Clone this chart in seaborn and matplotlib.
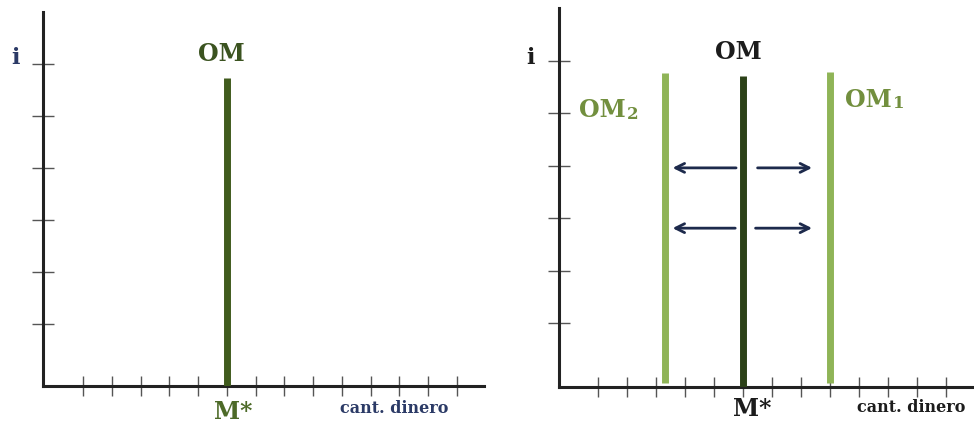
import numpy as np
import pandas as pd
import seaborn as sns
import matplotlib.pyplot as plt

# money supply curves (vertical lines): position on the quantity axis, bottom and top on the i axis
left_curves = ["OM"]
left_x = [6]
left_bottom = [-0.19]
left_top = [5.73]

right_curves = ["OM2", "OM", "OM1"]
right_x = [3.3, 6, 9]
right_bottom = [-0.15, -0.22, -0.15]
right_top = [5.77, 5.71, 5.79]

# shift arrows (right panel)
arrow_y = [3.96, 2.81]
arrow_left_start = [5.86, 5.83]
arrow_left_end = [3.48, 3.48]
arrow_right_start = [6.41, 6.34]
arrow_right_end = [8.48, 8.48]

x_ticks = list(range(1, 15))
y_ticks = list(range(1, 7))

sns.set_style("white")
plt.rcParams['font.family'] = ['DejaVu Serif', 'DejaVu Sans']

fig = plt.figure(figsize=(9.74, 4.28), dpi=100)
W, H = 974, 428
ax1 = fig.add_axes([43 / W, (H - 386) / H, 441 / W, (386 - 12) / H])
ax2 = fig.add_axes([559 / W, (H - 387) / H, 445 / W, (387 - 8) / H])


def curves_df(names, xs, bottoms, tops):
    rows = []
    for n, x, b, t in zip(names, xs, bottoms, tops):
        rows.append({"curve": n, "x": x, "y": b})
        rows.append({"curve": n, "x": x, "y": t})
    return pd.DataFrame(rows)


df_left = curves_df(left_curves, left_x, left_bottom, left_top)
df_right = curves_df(right_curves, right_x, right_bottom, right_top)

sns.lineplot(data=df_left, x="x", y="y", hue="curve", orient="y", estimator=None,
             palette={"OM": "#405b1d"}, linewidth=5, solid_capstyle="butt",
             legend=False, ax=ax1, zorder=3)
sns.lineplot(data=df_right, x="x", y="y", hue="curve", orient="y", estimator=None,
             palette={"OM2": "#8fb457", "OM": "#2c4118", "OM1": "#8fb457"},
             linewidth=5, solid_capstyle="butt", legend=False, ax=ax2, zorder=3)

for ax, xlim, ylim in [(ax1, (-0.39, 14.94), (-0.19, 7.0)), (ax2, (-0.34, 15.0), (-0.22, 7.01))]:
    ax.set_xlim(*xlim)
    ax.set_ylim(*ylim)
    ax.set_xticks(x_ticks)
    ax.set_yticks(y_ticks)
    ax.set_xlabel("")
    ax.set_ylabel("")
    ax.tick_params(bottom=True, left=True, labelbottom=False, labelleft=False,
                   direction="inout", color="#555555", width=1)
    ax.tick_params(axis="x", length=14)
    ax.tick_params(axis="y", length=16)
    sns.despine(ax=ax)
    for s in ["left", "bottom"]:
        ax.spines[s].set_linewidth(2.2)
        ax.spines[s].set_color("#222222")
    ax.set_facecolor("none")

navy = "#2b3a66"
# left panel labels
ax1.text(-1.36, 6.12, "i", color=navy, fontsize=16, fontweight="bold", ha="center", va="center")
ax1.text(5.80, 6.19, "OM", color="#3b5320", fontsize=17, fontweight="bold", ha="center", va="center")
ax1.text(6.21, -0.69, "M*", color="#4d6a28", fontsize=17, fontweight="bold", ha="center", va="center")
ax1.text(11.81, -0.62, "cant. dinero", color=navy, fontsize=11.5, fontweight="bold", ha="center", va="center")

# right panel labels
dark = "#1c1c1c"
green = "#728f3e"
ax2.text(-1.34, 6.06, "i", color=dark, fontsize=16, fontweight="bold", ha="center", va="center")
ax2.text(5.86, 6.17, "OM", color=dark, fontsize=17, fontweight="bold", ha="center", va="center")
ax2.text(6.31, -0.64, "M*", color=dark, fontsize=17, fontweight="bold", ha="center", va="center")
ax2.text(11.79, -0.62, "cant. dinero", color=dark, fontsize=11.5, fontweight="bold", ha="center", va="center")

om2 = ax2.text(1.95, 5.06, "OM", color=green, fontsize=17, fontweight="bold", ha="right", va="center")
ax2.annotate("2", xy=(1, 0), xycoords=om2, xytext=(1, -0.5), textcoords="offset points",
             color=green, fontsize=12, fontweight="bold", ha="left", va="bottom")
om1 = ax2.text(9.52, 5.26, "OM", color=green, fontsize=17, fontweight="bold", ha="left", va="center")
ax2.annotate("1", xy=(1, 0), xycoords=om1, xytext=(1, -0.5), textcoords="offset points",
             color=green, fontsize=12, fontweight="bold", ha="left", va="bottom")

arrow_color = "#1d2a4c"
for y, ls, le, rs, re in zip(arrow_y, arrow_left_start, arrow_left_end, arrow_right_start, arrow_right_end):
    ax2.annotate("", xy=(le, y), xytext=(ls, y),
                 arrowprops=dict(arrowstyle="->", color=arrow_color, lw=2, mutation_scale=16))
    ax2.annotate("", xy=(re, y), xytext=(rs, y),
                 arrowprops=dict(arrowstyle="->", color=arrow_color, lw=2, mutation_scale=16))

fig.savefig("out.png", dpi=100)
